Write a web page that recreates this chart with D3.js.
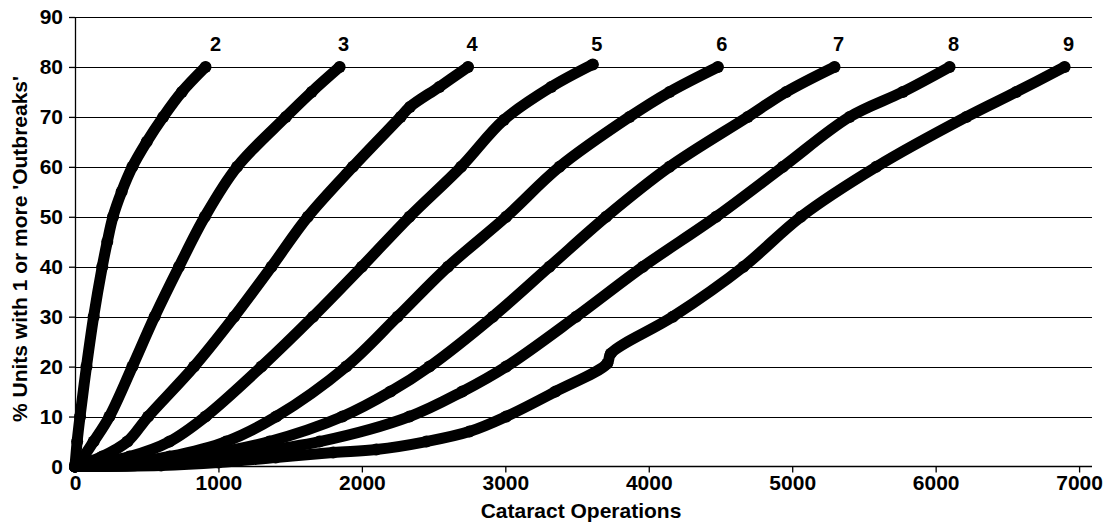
<!DOCTYPE html>
<html>
<head>
<meta charset="utf-8">
<script src="https://cdn.jsdelivr.net/npm/d3@7"></script>
<style>
    html, body { margin: 0; padding: 0; background: #fff; }
    #div-chart { width: 1106px; height: 524px; position: relative; }
    svg { font-family: "Liberation Sans", Arial, sans-serif; font-weight: bold; }
    .grid line { stroke: #000; stroke-width: 1; shape-rendering: crispEdges; }
    .y_axis path, .x_axis path { stroke: #000; stroke-width: 1.3; }
    .y_axis line, .x_axis line { stroke: #000; stroke-width: 1.3; }
    .y_axis text, .x_axis text { font-size: 21px; font-weight: bold; fill: #000; }
    .curve { fill: none; stroke: #000; stroke-width: 11; stroke-linecap: round; stroke-linejoin: round; }
    .dot { fill: #000; }
    .curve-label { font-size: 20px; font-weight: bold; fill: #000; }
    .axis-title { font-size: 21px; font-weight: bold; fill: #000; }
</style>
</head>
<body>
<div id="div-chart"></div>
<script>
"use strict";

// Values: [cataract operations, % units with 1+ outbreaks].
const seriesNames = ["2", "3", "4", "5", "6", "7", "8", "9"];

const curve2 = [[0, 0], [15, 5], [35, 10], [80, 20], [130, 30], [190, 40], [225, 45], [265, 50],
    [325, 55], [400, 60], [500, 65], [615, 70], [745, 75], [910, 80]];
const curve3 = [[0, 0], [60, 2], [130, 5], [240, 10], [400, 20], [555, 30], [725, 40], [905, 50],
    [1130, 60], [1470, 70], [1650, 75], [1845, 80]];
const curve4 = [[0, 0], [190, 2], [366, 5], [510, 10], [830, 20], [1110, 30], [1370, 40], [1623, 50],
    [1937, 60], [2270, 70], [2335, 72], [2540, 76], [2740, 80]];
const curve5 = [[0, 0], [380, 2], [659, 5], [910, 10], [1300, 20], [1660, 30], [2000, 40], [2332, 50],
    [2692, 60], [2990, 69.4], [3320, 76], [3610, 80.5]];
const curve6 = [[0, 0], [300, 0.5], [659, 2], [1054, 5], [1403, 10], [1891, 20], [2249, 30], [2600, 40],
    [3006, 50], [3378, 60], [3866, 70], [4145, 75], [4482, 80]];
const curve7 = [[0, 0], [450, 0.5], [845, 2], [1356, 5], [1865, 10], [2200, 15], [2471, 20], [2913, 30],
    [3308, 40], [3703, 50], [4145, 60], [4690, 70], [4958, 75], [5295, 80]];
const curve8 = [[0, 0], [500, 0.3], [1008, 2], [1705, 5], [2332, 10], [2700, 15], [3006, 20], [3494, 30],
    [3959, 40], [4470, 50], [4935, 60], [5400, 70], [5771, 75], [6097, 80]];
const curve9 = [[0, 0], [600, 0.2], [1000, 0.8], [1400, 1.8], [1800, 2.8], [2100, 3.4], [2450, 5],
    [2750, 7], [3006, 10], [3350, 15], [3710, 20.6], [3735, 22.6], [4168, 30], [4660, 40], [5060, 50],
    [5586, 60], [6214, 70], [6562, 75], [6899, 80]];

const allCurves = [curve2, curve3, curve4, curve5, curve6, curve7, curve8, curve9];

const xTicks = [0, 1000, 2000, 3000, 4000, 5000, 6000, 7000];
const yTicks = [0, 10, 20, 30, 40, 50, 60, 70, 80, 90];
const xTitle = "Cataract Operations";
const yTitle = "% Units with 1 or more 'Outbreaks'";

class CataractChart {

    constructor() {
        this.svg = d3.select("#div-chart")
            .append("svg")
            .attr("width", 1106)
            .attr("height", 524);
    }

    show() {
        const svg = this.svg;
        const left = 75, top = 17, right = 1092, bottom = 466.5;

        const xScale = d3.scaleLinear()
            .domain([0, 7090])
            .range([left, right]);
        const yScale = d3.scaleLinear()
            .domain([0, 90])
            .range([bottom, top]);

        // Horizontal gridlines.
        svg.append("g")
            .attr("class", "grid")
            .selectAll("line")
            .data(yTicks.filter(v => v > 0))
            .join("line")
            .attr("x1", left)
            .attr("x2", right)
            .attr("y1", d => Math.round(yScale(d)) + 0.5)
            .attr("y2", d => Math.round(yScale(d)) + 0.5);

        const yAxis = d3.axisLeft(yScale)
            .tickValues(yTicks)
            .tickSize(6)
            .tickSizeOuter(0)
            .tickPadding(6);
        svg.append("g")
            .attr("class", "y_axis")
            .attr("transform", `translate(${left},0)`)
            .call(yAxis);

        const xAxis = d3.axisBottom(xScale)
            .tickValues(xTicks)
            .tickFormat(d3.format("d"))
            .tickSize(6)
            .tickSizeOuter(0)
            .tickPadding(3);
        const gx = svg.append("g")
            .attr("class", "x_axis")
            .attr("transform", `translate(0,${bottom})`)
            .call(xAxis);
        gx.select(".domain").attr("d", `M${left},0H${right}`);

        const lineData = d3.line()
            .x(d => xScale(d[0]))
            .y(d => yScale(d[1]))
            .curve(d3.curveCatmullRom.alpha(0.5));

        const gCurves = svg.append("g");
        allCurves.forEach((pts, i) => {
            const g = gCurves.append("g");
            g.append("path")
                .datum(pts)
                .attr("class", "curve")
                .attr("d", lineData);
            g.selectAll("circle")
                .data(pts)
                .join("circle")
                .attr("class", "dot")
                .attr("cx", d => xScale(d[0]))
                .attr("cy", d => yScale(d[1]))
                .attr("r", 6);
            // Number label sits just above the last point of the series.
            const last = pts[pts.length - 1];
            g.append("text")
                .attr("class", "curve-label")
                .attr("text-anchor", "middle")
                .attr("x", xScale(last[0]) + (i === 0 ? 10 : 4))
                .attr("y", yScale(80) - 16)
                .text(seriesNames[i]);
        });

        // Axis titles.
        svg.append("text")
            .attr("class", "axis-title")
            .attr("text-anchor", "middle")
            .attr("transform", `translate(27,${249}) rotate(-90)`)
            .text(yTitle);

        svg.append("text")
            .attr("class", "axis-title")
            .attr("text-anchor", "middle")
            .attr("x", 581)
            .attr("y", 518)
            .text(xTitle);
    }
}

new CataractChart().show();
</script>
</body>
</html>
